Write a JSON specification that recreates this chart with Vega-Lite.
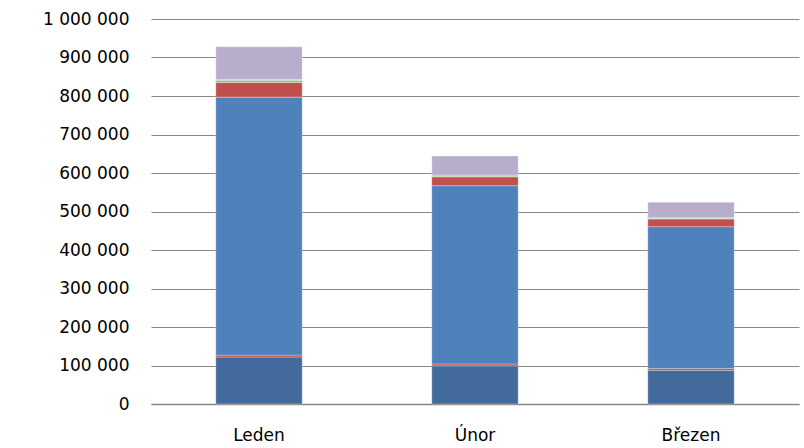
{
  "$schema": "https://vega.github.io/schema/vega-lite/v6.json",
  "width": 648,
  "height": 385,
  "autosize": {"type": "none"},
  "padding": {"left": 151, "top": 19, "right": 5, "bottom": 44},
  "background": "white",
  "config": {
    "view": {"stroke": null},
    "locale": {"number": {"decimal": ",", "thousands": " ", "grouping": [3], "currency": ["", ""]}}
  },
  "data": {
    "values": [
      {"mesic": "Leden", "serie": "S1", "poradi": 1, "hodnota": 122000},
      {"mesic": "Leden", "serie": "S2", "poradi": 2, "hodnota": 5000},
      {"mesic": "Leden", "serie": "S3", "poradi": 3, "hodnota": 670000},
      {"mesic": "Leden", "serie": "S4", "poradi": 4, "hodnota": 38000},
      {"mesic": "Leden", "serie": "S5", "poradi": 5, "hodnota": 5000},
      {"mesic": "Leden", "serie": "S6", "poradi": 6, "hodnota": 3000},
      {"mesic": "Leden", "serie": "S7", "poradi": 7, "hodnota": 85000},
      {"mesic": "Únor", "serie": "S1", "poradi": 1, "hodnota": 99000},
      {"mesic": "Únor", "serie": "S2", "poradi": 2, "hodnota": 5000},
      {"mesic": "Únor", "serie": "S3", "poradi": 3, "hodnota": 463000},
      {"mesic": "Únor", "serie": "S4", "poradi": 4, "hodnota": 23000},
      {"mesic": "Únor", "serie": "S5", "poradi": 5, "hodnota": 2000},
      {"mesic": "Únor", "serie": "S6", "poradi": 6, "hodnota": 3000},
      {"mesic": "Únor", "serie": "S7", "poradi": 7, "hodnota": 49000},
      {"mesic": "Březen", "serie": "S1", "poradi": 1, "hodnota": 87500},
      {"mesic": "Březen", "serie": "S2", "poradi": 2, "hodnota": 5000},
      {"mesic": "Březen", "serie": "S3", "poradi": 3, "hodnota": 368000},
      {"mesic": "Březen", "serie": "S4", "poradi": 4, "hodnota": 20000},
      {"mesic": "Březen", "serie": "S5", "poradi": 5, "hodnota": 1500},
      {"mesic": "Březen", "serie": "S6", "poradi": 6, "hodnota": 2000},
      {"mesic": "Březen", "serie": "S7", "poradi": 7, "hodnota": 40000}
    ]
  },
  "mark": {"type": "bar", "stroke": "white", "strokeWidth": 0.5, "strokeOpacity": 0.6},
  "encoding": {
    "x": {
      "field": "mesic",
      "type": "nominal",
      "sort": ["Leden", "Únor", "Březen"],
      "scale": {"paddingInner": 0.6, "paddingOuter": 0.3},
      "axis": {
        "title": null,
        "labelAngle": 0,
        "ticks": false,
        "labelFont": "DejaVu Sans",
        "labelFontSize": 17,
        "labelColor": "#000000",
        "labelPadding": 23,
        "domainColor": "#868686",
        "domainWidth": 1.5
      }
    },
    "y": {
      "field": "hodnota",
      "type": "quantitative",
      "stack": "zero",
      "scale": {"domain": [0, 1000000]},
      "axis": {
        "title": null,
        "format": ",d",
        "values": [0, 100000, 200000, 300000, 400000, 500000, 600000, 700000, 800000, 900000, 1000000],
        "labelOverlap": false,
        "domain": false,
        "ticks": false,
        "grid": true,
        "gridColor": "#868686",
        "gridWidth": 1,
        "labelFont": "DejaVu Sans",
        "labelFontSize": 17,
        "labelColor": "#000000",
        "labelPadding": 22
      }
    },
    "color": {
      "field": "serie",
      "type": "nominal",
      "scale": {
        "domain": ["S1", "S2", "S3", "S4", "S5", "S6", "S7"],
        "range": ["#426A9C", "#C0504D", "#4F81BD", "#C0504D", "#9BBB59", "#8FC3D0", "#B8AECB"]
      },
      "legend": null
    },
    "order": {"field": "poradi", "type": "quantitative"}
  }
}
